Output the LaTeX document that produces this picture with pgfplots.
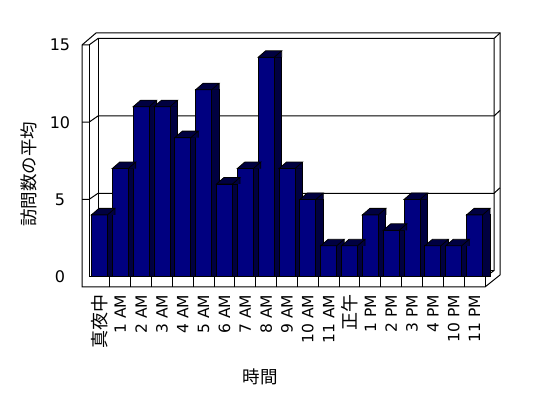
\documentclass[border=0pt]{standalone}
\usepackage{pgfplots}
\usepackage{pgfplotstable}
\pgfplotsset{compat=1.18}
\usepackage{fontspec}
\setmainfont{DejaVu Sans}
\newfontfamily\cjk{Noto Sans CJK JP}
\definecolor{barfront}{RGB}{0,0,128}
\definecolor{barside}{RGB}{0,0,64}

\pgfdeclareplotmark{barTop}{%
  \pgfpathmoveto{\pgfqpoint{-8pt}{0pt}}%
  \pgfpathlineto{\pgfqpoint{15.5pt}{0pt}}%
  \pgfpathlineto{\pgfqpoint{15.5pt}{6.5pt}}%
  \pgfpathlineto{\pgfqpoint{-0.5pt}{6.5pt}}%
  \pgfpathclose
  \pgfusepathqfill
  \pgfpathmoveto{\pgfqpoint{-8pt}{0pt}}%
  \pgfpathlineto{\pgfqpoint{8pt}{0pt}}%
  \pgfpathlineto{\pgfqpoint{15.5pt}{6.5pt}}%
  \pgfpathlineto{\pgfqpoint{-0.5pt}{6.5pt}}%
  \pgfpathclose
  \pgfpathmoveto{\pgfqpoint{15.5pt}{6.5pt}}%
  \pgfpathlineto{\pgfqpoint{15.5pt}{0pt}}%
  \pgfusepathqstroke
}

\pgfplotstableread{
x v
0 4
1 7
2 11
3 11
4 9
5 12.1
6 6
7 7
8 14.2
9 7
10 5
11 2
12 2
13 4
14 3
15 5
16 2
17 2
18 4
}\datatable

\begin{document}
\begin{tikzpicture}
\useasboundingbox (0,0) rectangle (548pt,398pt);
% 3D frame (image coordinates, y downwards)
\begin{scope}[x=1pt,y=-1pt,shift={(0pt,398pt)},line width=1pt,line join=miter]
  \draw (82,287) -- (82,45) -- (96,33) -- (500,33) -- (500,275) -- (485,287) -- cycle;
  \draw (82,45) -- (89,45) -- (98,38.5) -- (494,38.5) -- (500,33);
  \draw (89,45) -- (89,277) -- (485,277) -- (485,287);
  \draw (485,277) -- (494,270.6) -- (494,38.5);
  \draw (98,38.5) -- (98,270.6) -- (494,270.6);
  \draw (82,199.45) -- (89,199.45) -- (98,193.3) -- (494,193.3) -- (500,187.8);
  \draw (82,122.2) -- (89,122.2) -- (98,116.0) -- (494,116.0) -- (500,110.5);
  \foreach \k in {1,...,18} {
    \draw ({89+\k*20.842},277) -- ({89+\k*20.842},287);
  }
\end{scope}
\begin{axis}[
  at={(89pt,121.3pt)}, anchor=south west,
  scale only axis, width=396pt, height=231.75pt,
  xmin=-0.5, xmax=18.5, ymin=0, ymax=15,
  clip=false,
  axis line style={draw=none},
  major tick length=0pt, tick style={draw=none},
  xtick={0,...,18},
  xticklabels={{\cjk\fontsize{18}{20}\selectfont 真夜中},1 AM,2 AM,3 AM,4 AM,5 AM,6 AM,7 AM,8 AM,9 AM,10 AM,11 AM,{\cjk\fontsize{18}{20}\selectfont 正午},1 PM,2 PM,3 PM,4 PM,10 PM,11 PM},
  xticklabel style={rotate=90, anchor=east, inner sep=0pt, font=\fontsize{15.5}{17}\selectfont},
  xticklabel shift=18pt,
  ytick={0,5,10,15},
  yticklabel style={anchor=center, inner sep=0pt, xshift=-29pt, font=\fontsize{16}{18}\selectfont},
  /pgf/number format/assume math mode=true,
  xlabel={時間},
  xlabel style={at={(axis description cs:0.432,0)}, anchor=center, yshift=-100pt, font=\cjk\fontsize{17.5}{20}\selectfont},
  ylabel={訪問数の平均},
  ylabel style={at={(axis description cs:-0.1528,0.443)}, anchor=center, font=\cjk\fontsize{17.5}{20}\selectfont},
]
\addplot[ybar, bar width=16pt, bar shift=7.5pt, fill=barside, draw=black, line width=0.8pt] table[x=x,y=v]{\datatable};
\addplot[only marks, mark=barTop, mark options={fill=barside, draw=black, line width=0.8pt}] table[x=x,y=v]{\datatable};
\addplot[ybar, bar width=16pt, bar shift=0pt, fill=barfront, draw=black, line width=0.8pt] table[x=x,y=v]{\datatable};
\end{axis}
\end{tikzpicture}
\end{document}
